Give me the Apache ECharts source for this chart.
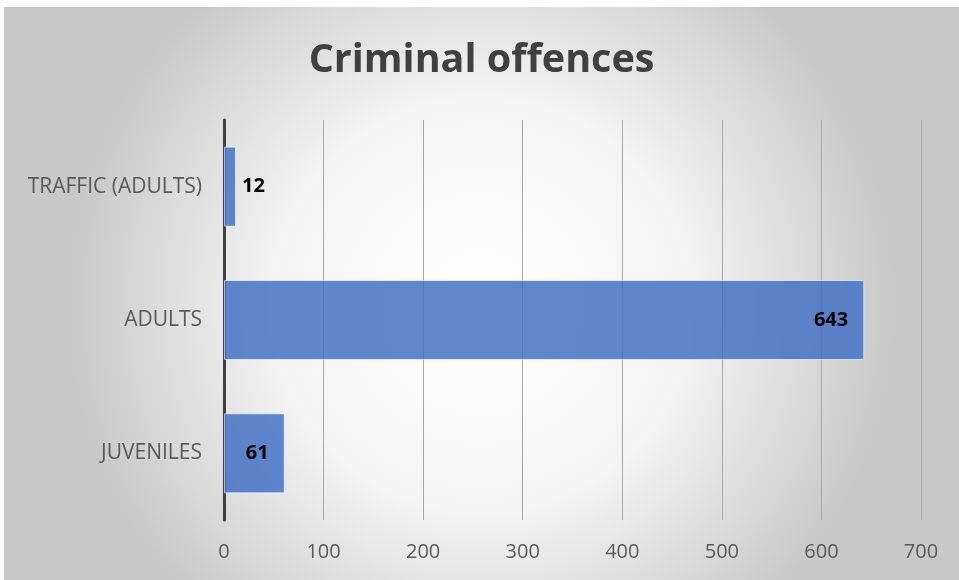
<!DOCTYPE html>
<html><head><meta charset="utf-8">
<script src="https://cdn.jsdelivr.net/npm/echarts@6/dist/echarts.min.js"></script>
<style>
html,body{margin:0;padding:0;background:#fff;}
#wrap{position:absolute;left:4px;top:7px;width:955px;height:573px;}
#chart{width:955px;height:573px;}
</style></head>
<body><div id="wrap"><div id="chart"></div></div>
<script>
const titleText = 'Criminal offences';
const categories = ['JUVENILES', 'ADULTS', 'TRAFFIC (ADULTS)'];
const values = [61, 643, 12];
const labelPositions = ['insideRight', 'insideRight', 'right'];
const labelDistances = [16, 16, 6];
const xTicks = { min: 0, max: 700, interval: 100 };

const chart = echarts.init(document.getElementById('chart'));
chart.setOption({
  backgroundColor: {
    type: 'radial', x: 0.5, y: 0.52, r: 0.72,
    colorStops: [{offset: 0, color: '#ffffff'}, {offset: 0.5, color: '#f4f4f4'}, {offset: 1, color: '#c8c8c8'}]
  },
  animation: false,
  title: {
    text: titleText, left: 'center', top: 34, padding: [0, 0, 0, 14],
    textStyle: {fontFamily: 'Open Sans', fontWeight: 'bold', fontSize: 39.5, color: '#404040'}
  },
  grid: {left: 220, right: 38, top: 113, bottom: 60},
  xAxis: {
    type: 'value', min: xTicks.min, max: xTicks.max, interval: xTicks.interval,
    axisLine: {show: false}, axisTick: {show: false},
    splitLine: {lineStyle: {color: '#a8a8a8', width: 1}},
    axisLabel: {color: '#595959', fontFamily: 'Open Sans', fontSize: 20, margin: 22}
  },
  yAxis: {
    type: 'category', data: categories,
    axisLine: {lineStyle: {color: '#404040', width: 3}},
    axisTick: {show: false},
    axisLabel: {color: '#595959', fontFamily: 'Open Sans', fontSize: 21, margin: 22}
  },
  series: [{
    type: 'bar', barWidth: '60%',
    data: values.map((v, i) => ({value: v, label: {position: labelPositions[i], distance: labelDistances[i]}})),
    itemStyle: {color: 'rgba(68,114,196,0.85)', borderColor: 'rgba(255,255,255,0.6)', borderWidth: 1},
    label: {show: true, color: '#000', fontFamily: 'Open Sans', fontWeight: 'bold', fontSize: 20}
  }]
});
</script></body></html>
